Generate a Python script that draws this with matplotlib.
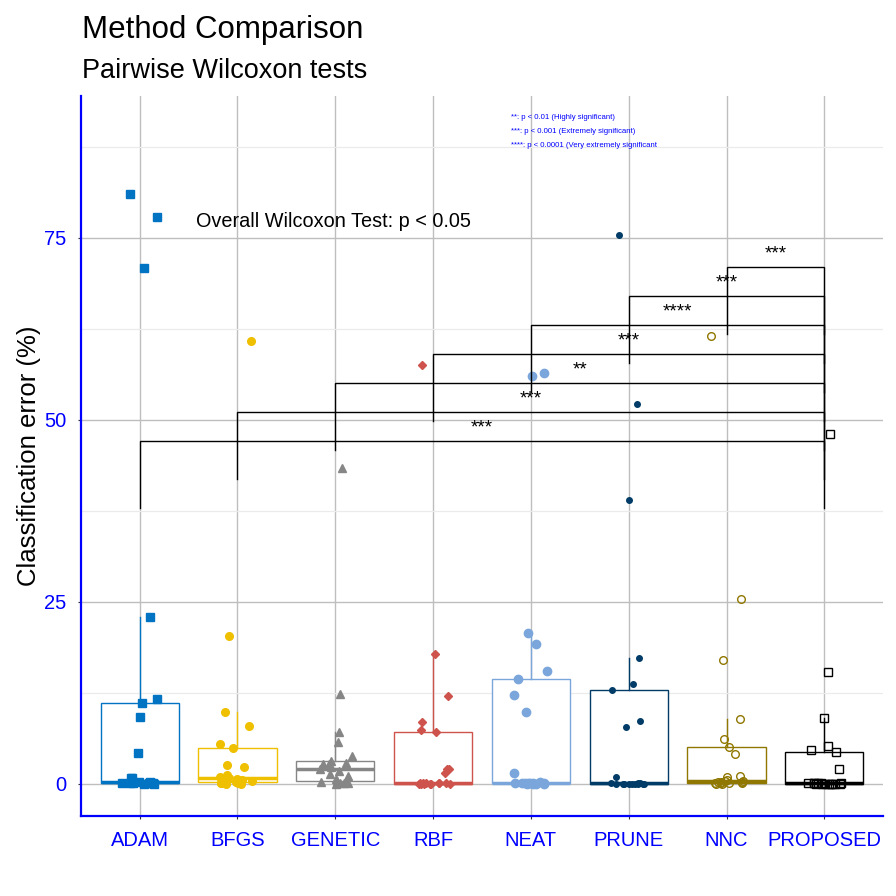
import numpy as np
import matplotlib
matplotlib.use("Agg")
import matplotlib.pyplot as plt
from matplotlib.ticker import MultipleLocator

plt.rcParams['font.family'] = ['Liberation Sans', 'DejaVu Sans']

# ---------------- data ----------------
methods = ["ADAM", "BFGS", "GENETIC", "RBF", "NEAT", "PRUNE", "NNC", "PROPOSED"]
adam = [0.0, 0.0, 0.1, 0.1, 0.1, 0.2, 0.2, 0.2, 0.3, 0.3, 0.3, 0.8, 0.8, 4.3, 9.2, 11.1, 11.7, 22.9, 70.9, 77.9, 81.0]
bfgs = [0.0, 0.0, 0.1, 0.1, 0.2, 0.3, 0.4, 0.5, 0.6, 0.7, 0.8, 1.0, 1.2, 2.3, 2.6, 4.9, 5.5, 8.0, 9.9, 20.3, 60.8]
genetic = [0.0, 0.1, 0.1, 0.2, 0.3, 0.4, 0.7, 1.1, 1.4, 1.8, 2.0, 2.3, 2.7, 2.8, 2.9, 3.2, 3.9, 5.8, 7.1, 12.4, 43.4]
rbf = [0.0, 0.0, 0.0, 0.0, 0.0, 0.0, 0.1, 0.1, 0.1, 0.1, 0.2, 0.2, 1.5, 2.0, 2.1, 7.2, 7.4, 8.5, 12.1, 17.8, 57.6]
neat = [0.0, 0.0, 0.0, 0.0, 0.1, 0.1, 0.1, 0.2, 0.2, 0.2, 0.2, 0.3, 1.5, 9.9, 12.2, 14.4, 15.5, 19.2, 20.7, 56.0, 56.5]
prune = [0.0, 0.0, 0.0, 0.0, 0.0, 0.0, 0.0, 0.0, 0.0, 0.1, 0.1, 0.1, 1.0, 7.8, 8.7, 12.9, 13.7, 17.3, 39.0, 52.2, 75.4]
nnc = [0.0, 0.0, 0.1, 0.1, 0.2, 0.2, 0.3, 0.3, 0.3, 0.4, 0.4, 0.5, 1.0, 1.1, 4.1, 5.1, 6.2, 8.9, 17.0, 25.4, 61.5]
proposed = [0.0, 0.0, 0.0, 0.0, 0.0, 0.0, 0.0, 0.0, 0.1, 0.1, 0.1, 0.1, 0.2, 0.2, 2.1, 4.4, 4.7, 5.2, 9.1, 15.4, 48.1]
series = [adam, bfgs, genetic, rbf, neat, prune, nnc, proposed]

# pairwise comparisons vs PROPOSED
comp_groups = ["ADAM", "BFGS", "GENETIC", "RBF", "NEAT", "PRUNE", "NNC"]
comp_labels = ["***", "***", "**", "***", "****", "***", "***"]
comp_ypos = [47.1, 51.1, 55.1, 59.1, 63.0, 67.0, 71.0]

legend_lines = ["**: p < 0.01 (Highly significant)",
                "***: p < 0.001 (Extremely significant)",
                "****: p < 0.0001 (Very extremely significant"]

# ---------------- style ----------------
colors = ["#0073C2", "#EFC000", "#868686", "#CD534C", "#7AA6DC", "#003C67", "#8F7700", "#000000"]
markers = [
    dict(marker='s', ms=5.5, filled=True),
    dict(marker='o', ms=5.5, filled=True),
    dict(marker='^', ms=6.0, filled=True),
    dict(marker='D', ms=3.8, filled=True),
    dict(marker='o', ms=6.0, filled=True),
    dict(marker='o', ms=4.0, filled=True),
    dict(marker='o', ms=5.5, filled=False),
    dict(marker='s', ms=5.5, filled=False),
]

W, H = 896, 896
fig = plt.figure(figsize=(W / 100, H / 100), dpi=100)
ax = fig.add_axes([81 / W, 1 - 816 / H, (883 - 81) / W, (816 - 96) / H])

pos = np.arange(1, len(methods) + 1)

# grid
ax.set_axisbelow(True)
ax.yaxis.set_major_locator(MultipleLocator(25))
ax.yaxis.set_minor_locator(MultipleLocator(12.5))
ax.grid(which='major', axis='both', color='#bebebe', linewidth=1.0)
ax.grid(which='minor', axis='y', color='#ebebeb', linewidth=0.9)

# boxplots
for i, (vals, c) in enumerate(zip(series, colors)):
    ax.boxplot([vals], positions=[pos[i]], widths=0.8, patch_artist=True,
               showfliers=False, showcaps=False,
               boxprops=dict(facecolor='white', edgecolor=c, linewidth=1.0),
               whiskerprops=dict(color=c, linewidth=1.0),
               medianprops=dict(color=c, linewidth=2.5, solid_capstyle='butt'),
               zorder=2)

# jittered points
rng = np.random.default_rng(7)
for i, (vals, c, m) in enumerate(zip(series, colors, markers)):
    xj = pos[i] + rng.uniform(-0.18, 0.18, len(vals))
    if m['filled']:
        ax.plot(xj, vals, linestyle='none', marker=m['marker'], ms=m['ms'],
                color=c, mec=c, zorder=3)
    else:
        ax.plot(xj, vals, linestyle='none', marker=m['marker'], ms=m['ms'],
                mfc='none', mec=c, mew=1.0, zorder=3)

# brackets
tip = 9.2
x_ref = pos[methods.index("PROPOSED")]
for g, lab, yb in zip(comp_groups, comp_labels, comp_ypos):
    x1 = pos[methods.index(g)]
    ax.plot([x1, x1, x_ref, x_ref], [yb - tip, yb, yb, yb - tip],
            color='black', linewidth=1.0, zorder=4, solid_joinstyle='miter')
    ax.text((x1 + x_ref) / 2, yb + 1.2, lab, ha='center', va='baseline',
            fontsize=13.5, color='black', zorder=5)

# overall test annotation
ax.text(1.58, 76.5, "Overall Wilcoxon Test: p < 0.05", ha='left', va='baseline',
        fontsize=14.3, color='black')

# significance legend
for k, line in enumerate(legend_lines):
    ax.text(4.80, 91.6 - k * 1.92, line, ha='left', va='center',
            fontsize=5.6, color='#0000FF')

ax.set_xlim(0.4, 8.6)
ax.set_ylim(-4.4, 94.5)
ax.set_xticks(pos)
ax.set_xticklabels(methods)

for s in ['top', 'right']:
    ax.spines[s].set_visible(False)
for s in ['left', 'bottom']:
    ax.spines[s].set_color('#0000FF')
    ax.spines[s].set_linewidth(1.6)

ax.tick_params(axis='both', which='major', labelsize=14.5, labelcolor='#0000FF',
               color='#333333', length=2.5, width=0.8, pad=8)
ax.tick_params(axis='y', which='minor', length=0)

fig.text(29 / W, 1 - 456 / H, "Classification error (%)", rotation=90,
         ha='center', va='center', fontsize=18.5, color='black')
fig.text(82 / W, 1 - 38 / H, "Method Comparison", ha='left', va='baseline',
         fontsize=22.5, color='black')
fig.text(82 / W, 1 - 77.5 / H, "Pairwise Wilcoxon tests", ha='left', va='baseline',
         fontsize=19.5, color='black')

fig.savefig("out.png", dpi=100)
